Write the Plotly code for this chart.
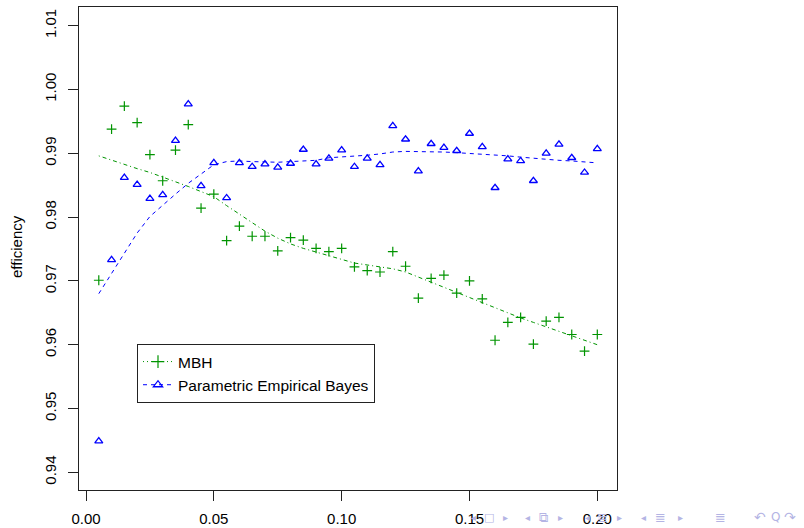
import plotly.graph_objects as go

# ---- data ----
x_vals = [0.005, 0.010, 0.015, 0.020, 0.025, 0.030, 0.035, 0.040, 0.045, 0.050,
          0.055, 0.060, 0.065, 0.070, 0.075, 0.080, 0.085, 0.090, 0.095, 0.100,
          0.105, 0.110, 0.115, 0.120, 0.125, 0.130, 0.135, 0.140, 0.145, 0.150,
          0.155, 0.160, 0.165, 0.170, 0.175, 0.180, 0.185, 0.190, 0.195, 0.200]

mbh_points = [0.9701, 0.9938, 0.9974, 0.9948, 0.9898, 0.9857, 0.9905, 0.9945, 0.9814, 0.9836,
              0.9763, 0.9786, 0.9770, 0.9770, 0.9747, 0.9768, 0.9764, 0.9751, 0.9746, 0.9751,
              0.9722, 0.9716, 0.9714, 0.9746, 0.9723, 0.9673, 0.9704, 0.9709, 0.9681, 0.9700,
              0.9672, 0.9607, 0.9635, 0.9643, 0.9601, 0.9637, 0.9643, 0.9616, 0.9590, 0.9616]

peb_points = [0.9449, 0.9733, 0.9862, 0.9851, 0.9829, 0.9835, 0.9920, 0.9977, 0.9849, 0.9885,
              0.9830, 0.9885, 0.9879, 0.9883, 0.9878, 0.9884, 0.9906, 0.9883, 0.9892, 0.9905,
              0.9879, 0.9892, 0.9882, 0.9943, 0.9922, 0.9872, 0.9915, 0.9909, 0.9904, 0.9931,
              0.9910, 0.9846, 0.9891, 0.9888, 0.9857, 0.9900, 0.9914, 0.9893, 0.9870, 0.9907]

mbh_smooth = [0.9896, 0.9889, 0.9883, 0.9876, 0.9870, 0.9863, 0.9855, 0.9848, 0.9840, 0.9832,
              0.9818, 0.9805, 0.9791, 0.9778, 0.9767, 0.9758, 0.9751, 0.9745, 0.9739, 0.9734,
              0.9728, 0.9725, 0.9722, 0.9719, 0.9714, 0.9706, 0.9698, 0.9689, 0.9681, 0.9673,
              0.9665, 0.9658, 0.9650, 0.9642, 0.9635, 0.9628, 0.9621, 0.9614, 0.9607, 0.9600]

peb_smooth = [0.9680, 0.9712, 0.9744, 0.9775, 0.9801, 0.9819, 0.9836, 0.9853, 0.9868, 0.9882,
              0.9887, 0.9888, 0.9887, 0.9886, 0.9886, 0.9887, 0.9888, 0.9889, 0.9893, 0.9894,
              0.9896, 0.9897, 0.9899, 0.9902, 0.9903, 0.9903, 0.9903, 0.9902, 0.9901, 0.9900,
              0.9899, 0.9898, 0.9896, 0.9894, 0.9892, 0.9891, 0.9889, 0.9888, 0.9886, 0.9885]

x_ticks = [0.00, 0.05, 0.10, 0.15, 0.20]
x_tick_labels = ["0.00", "0.05", "0.10", "0.15", "0.20"]
y_ticks = [0.94, 0.95, 0.96, 0.97, 0.98, 0.99, 1.00, 1.01]
y_tick_labels = ["0.94", "0.95", "0.96", "0.97", "0.98", "0.99", "1.00", "1.01"]

series_names = ["MBH", "Parametric Empirical Bayes"]
y_title = "efficiency"

GREEN = "#009400"
BLUE = "#0000ff"
FONT = "Liberation Sans, Arial, Helvetica, sans-serif"
MBH_DASH = "1px,3px,4px,3px"
PEB_DASH = "4px,4px"

fig = go.Figure()

# smooth curves
fig.add_trace(go.Scatter(x=x_vals, y=mbh_smooth, mode="lines", showlegend=False,
                         line=dict(color=GREEN, width=1, dash=MBH_DASH), hoverinfo="skip"))
fig.add_trace(go.Scatter(x=x_vals, y=peb_smooth, mode="lines", showlegend=False,
                         line=dict(color=BLUE, width=1, dash=PEB_DASH), hoverinfo="skip"))
# points
fig.add_trace(go.Scatter(x=x_vals, y=mbh_points, mode="markers", showlegend=False,
                         marker=dict(symbol="cross-thin-open", size=7, color=GREEN,
                                     line=dict(color=GREEN, width=1.2))))
fig.add_trace(go.Scatter(x=x_vals, y=peb_points, mode="markers", showlegend=False,
                         marker=dict(symbol="triangle-up-open", size=7, color=BLUE,
                                     line=dict(color=BLUE, width=1.3))))
# legend entries
fig.add_trace(go.Scatter(x=[None], y=[None], mode="lines+markers", name=series_names[0],
                         line=dict(color=GREEN, width=1, dash="1px,3px"),
                         marker=dict(symbol="cross-thin-open", size=9, color=GREEN,
                                     line=dict(color=GREEN, width=1.2))))
fig.add_trace(go.Scatter(x=[None], y=[None], mode="lines+markers", name=series_names[1],
                         line=dict(color=BLUE, width=1, dash=PEB_DASH),
                         marker=dict(symbol="triangle-up-open", size=8, color=BLUE,
                                     line=dict(color=BLUE, width=1.3))))

L, R, T, B = 79, 187, 7, 38
W, H = 804, 528
pw, ph = W - L - R, H - T - B


def px_x(p):
    return (p - L) / pw


def px_y(p):
    return (H - B - p) / ph


annotations = [dict(text=y_title, xref="paper", yref="paper", x=px_x(16), y=px_y(247),
                    textangle=-90, showarrow=False, xanchor="center", yanchor="middle",
                    font=dict(family=FONT, size=15, color="black"))]

# beamer navigation symbols (decoration)
nav = [("◂", 473, 10), ("□", 489, 11), ("▸", 506, 10),
       ("◂", 527, 10), ("⧉", 543, 13), ("▸", 560, 10),
       ("◂", 587, 10), ("≣", 602, 13), ("▸", 619, 10),
       ("◂", 643, 10), ("≣", 660, 13), ("▸", 680, 10),
       ("≣", 720, 13),
       ("↶", 760, 14), ("Q", 775, 12), ("↷", 790, 14)]
for s, xp, sz in nav:
    annotations.append(dict(text=s, xref="paper", yref="paper", x=px_x(xp), y=px_y(517),
                            showarrow=False, xanchor="center", yanchor="middle",
                            font=dict(family="DejaVu Sans", size=sz, color="#b4b4e4")))

axis_common = dict(showgrid=False, zeroline=False, showline=True, mirror=True,
                   linecolor="#222222", linewidth=1, ticks="outside", ticklen=10,
                   tickcolor="#222222", tickwidth=1, automargin=False,
                   tickfont=dict(family=FONT, size=15, color="black"))

fig.update_layout(
    width=W, height=H, autosize=False,
    margin=dict(l=L, r=R, t=T, b=B, pad=0, autoexpand=False),
    paper_bgcolor="white", plot_bgcolor="white",
    font=dict(family=FONT, size=15, color="black"),
    xaxis=dict(range=[-0.00274, 0.2077], tickvals=x_ticks, ticktext=x_tick_labels,
               ticklabelstandoff=5, **axis_common),
    yaxis=dict(range=[0.93723, 1.01293], tickvals=y_ticks, ticktext=y_tick_labels,
               tickangle=-90, ticklabelstandoff=6, **axis_common),
    legend=dict(x=px_x(137), y=px_y(344), xanchor="left", yanchor="top",
                bgcolor="white", bordercolor="#222222", borderwidth=1,
                font=dict(family=FONT, size=15.5, color="black"), tracegroupgap=0),
    annotations=annotations,
    showlegend=True,
)

fig.write_html("out.html", config={"displayModeBar": False},
               post_script="document.body.style.margin='0px';")
